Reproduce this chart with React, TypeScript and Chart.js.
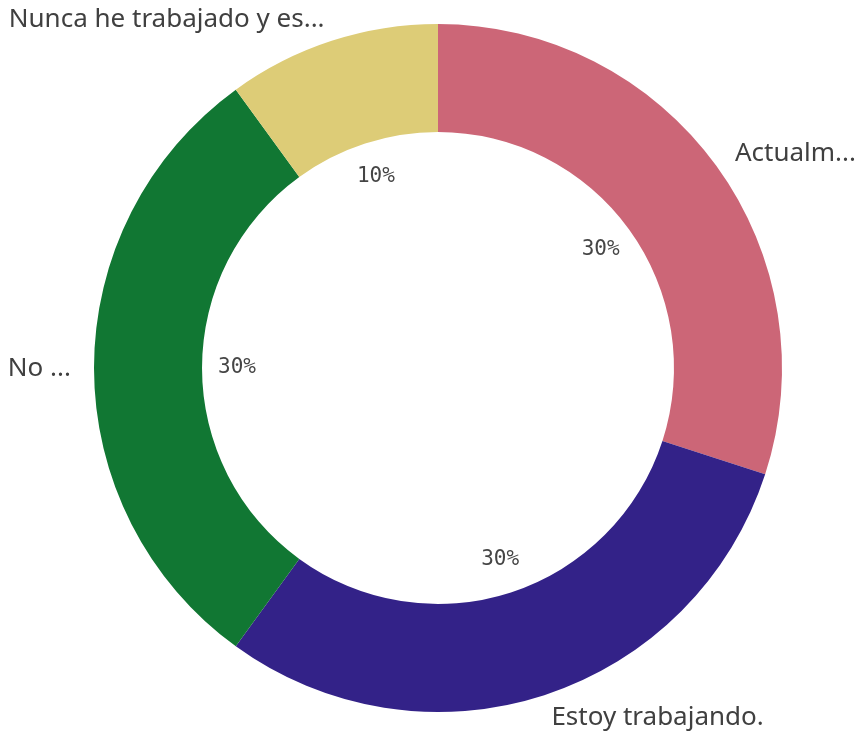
import React, { useEffect, useRef } from "react";
import { Chart, registerables } from "chart.js";

Chart.register(...registerables);

const categories = [
  "Actualm...",
  "Estoy trabajando.",
  "No ...",
  "Nunca he trabajado y es...",
];
const values = [30, 30, 30, 10];
const percentLabels = ["30%", "30%", "30%", "10%"];
const colors = ["#CC6677", "#332288", "#117733", "#DDCC77"];

const labelPlugin = {
  id: "sliceLabels",
  afterDraw(chart: any) {
    const ctx = chart.ctx;
    const meta = chart.getDatasetMeta(0);
    ctx.save();
    meta.data.forEach((arc: any, i: number) => {
      const { x, y, startAngle, endAngle, outerRadius } = arc.getProps(
        ["x", "y", "startAngle", "endAngle", "outerRadius"],
        true
      );
      const mid = (startAngle + endAngle) / 2;
      const cos = Math.cos(mid);
      const sin = Math.sin(mid);
      const rp = 201;
      ctx.font = '21px "DejaVu Sans Mono"';
      ctx.fillStyle = "#454545";
      ctx.textAlign = "center";
      ctx.textBaseline = "middle";
      ctx.fillText(percentLabels[i], x + rp * cos, y + rp * sin);
      const ro = outerRadius + 23;
      const lx = x + ro * cos;
      const ly = y + ro * sin + 1;
      ctx.font = '26px "Noto Sans"';
      ctx.fillStyle = "#404040";
      ctx.textAlign = cos >= 0 ? "left" : "right";
      ctx.fillText(categories[i], lx, ly);
    });
    ctx.restore();
  },
};

export default function App() {
  const ref = useRef<HTMLCanvasElement>(null);
  useEffect(() => {
    if (!ref.current) return;
    const chart = new Chart(ref.current, {
      type: "doughnut",
      data: {
        labels: categories,
        datasets: [
          {
            data: values,
            backgroundColor: colors,
            borderWidth: 0,
          },
        ],
      },
      options: {
        animation: false,
        responsive: false,
        cutout: "68.6%",
        layout: { padding: { top: 24, bottom: 20, left: 94, right: 77 } },
        plugins: {
          legend: { display: false },
          tooltip: { enabled: false },
        },
      },
      plugins: [labelPlugin],
    });
    return () => chart.destroy();
  }, []);
  return (
    <div style={{ position: "fixed", left: 0, top: 0, width: 859, height: 732, background: "#fff" }}>
      <canvas ref={ref} width={859} height={732} style={{ width: 859, height: 732 }} />
    </div>
  );
}
